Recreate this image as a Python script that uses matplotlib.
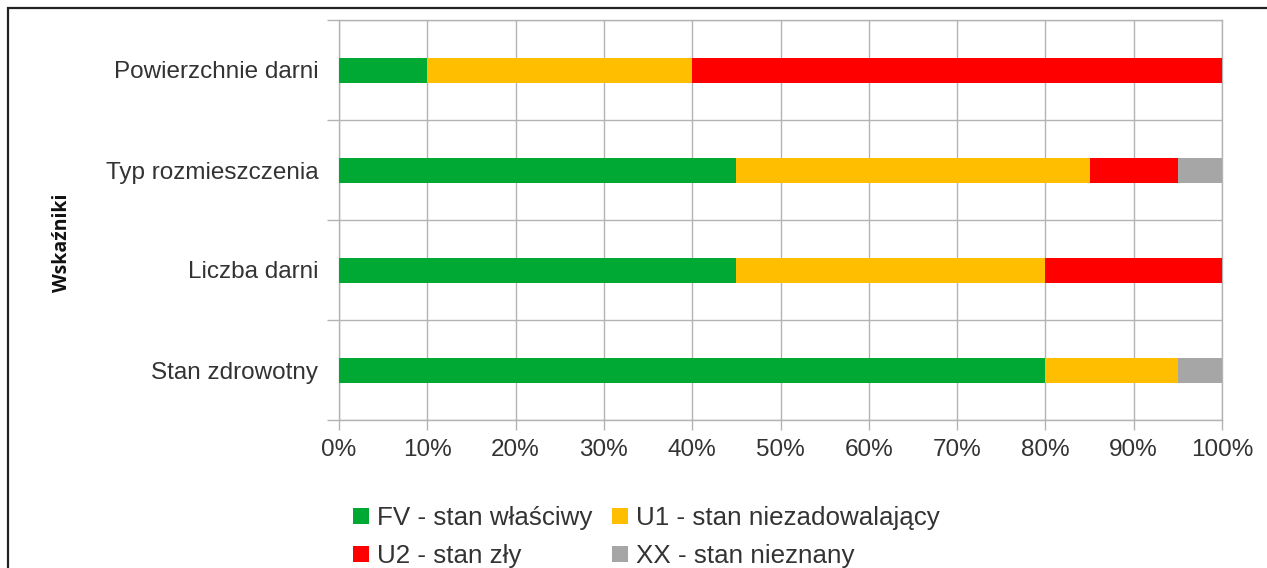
import matplotlib
matplotlib.use("Agg")
import matplotlib.pyplot as plt
from matplotlib.patches import Rectangle, Patch
import numpy as np

# Indicators (top to bottom) and their assessment shares in percent
categories = ["Powierzchnie darni", "Typ rozmieszczenia", "Liczba darni", "Stan zdrowotny"]
fv = [10, 45, 45, 80]
u1 = [30, 40, 35, 15]
u2 = [60, 10, 20, 0]
xx = [0, 5, 0, 5]

series_labels = ["FV - stan właściwy", "U1 - stan niezadowalający",
                 "U2 - stan zły", "XX - stan nieznany"]
series_colors = ["#00a933", "#ffbf00", "#ff0000", "#a6a6a6"]
x_ticks = [0, 10, 20, 30, 40, 50, 60, 70, 80, 90, 100]
x_tick_labels = [f"{v}%" for v in x_ticks]
y_axis_title = "Wskaźniki"

W, H = 1267, 568
fig = plt.figure(figsize=(W / 100, H / 100), dpi=100)
plt.rcParams["font.family"] = ["Liberation Sans", "DejaVu Sans"]

ax = fig.add_axes([339 / W, 1 - 420 / H, (1222 - 339) / W, (420 - 20) / H])

grid_color = "#b3b3b3"
text_color = "#333333"
fs = 17.5
legend_fs = 18.7

n = len(categories)
ypos = np.arange(n)[::-1]  # first category at the top
series = [fv, u1, u2, xx]
left = np.zeros(n)
for vals, color, lab in zip(series, series_colors, series_labels):
    vals = np.array(vals, dtype=float)
    ax.barh(ypos, vals, left=left, height=0.25, color=color, label=lab,
            linewidth=0, zorder=3)
    left += vals

ax.set_xlim(0, 100)
ax.set_ylim(-0.5, n - 0.5)

# Gridlines: vertical at each tick, horizontal at category boundaries
ax.set_xticks(x_ticks)
ax.set_xticklabels(x_tick_labels, fontsize=fs, color=text_color)
ax.set_yticks(np.arange(-0.5, n, 1.0))
ax.set_yticklabels([])
ax.set_yticks(ypos, minor=True)
ax.set_yticklabels(categories, minor=True, fontsize=fs, color=text_color)
ax.tick_params(axis="y", which="major", length=8.6, width=1.0, color=grid_color)
ax.tick_params(axis="y", which="minor", length=0, pad=15)
ax.tick_params(axis="x", which="major", length=7.5, width=1.0, color=grid_color, pad=6)
ax.grid(True, which="major", color=grid_color, linewidth=1.0, zorder=0)
ax.set_axisbelow(True)
for sp in ax.spines.values():
    sp.set_color(grid_color)
    sp.set_linewidth(1.0)

fig.text(62 / W, 1 - 243 / H, y_axis_title, rotation=90, ha="center", va="center",
         fontsize=14, fontweight="bold", family=["Open Sans", "DejaVu Sans"],
         color="#111111")

# Legend filled row by row: FV, U1 / U2, XX
order = [0, 2, 1, 3]
handles = [Patch(facecolor=series_colors[i], edgecolor="none") for i in order]
labels = [series_labels[i] for i in order]
fig.legend(handles, labels, ncol=2, frameon=False, fontsize=legend_fs,
           loc="upper left", bbox_to_anchor=(353 / W, 1 - 506 / H),
           borderaxespad=0, borderpad=0, handlelength=0.62, handleheight=0.6,
           handletextpad=0.3, columnspacing=0.75, labelspacing=0.55,
           labelcolor=text_color)

# Outer frame, open towards the right and bottom edges
fig.add_artist(Rectangle((8 / W, -0.5), 2.0, 0.5 + 1 - 8 / H,
                         transform=fig.transFigure, fill=False,
                         edgecolor="#222222", linewidth=1.6, clip_on=False))

fig.savefig("out.png", dpi=100, facecolor="white")
